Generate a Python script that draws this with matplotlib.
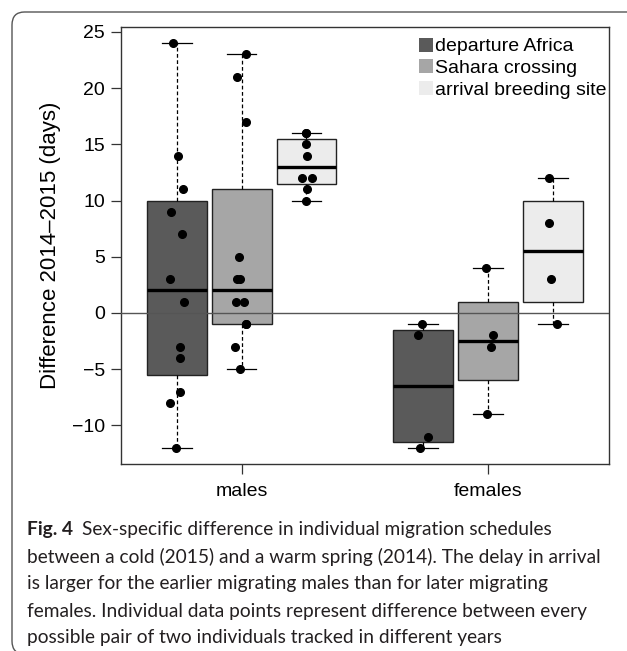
import math
import numpy as np
import matplotlib
matplotlib.use('Agg')
import matplotlib.pyplot as plt
from matplotlib.patches import Patch, FancyBboxPatch

# values (days, 2014 - 2015)
males_departure = [24, 14, 11, 9, 7, 3, 1, -3, -4, -7, -8, -12]
males_sahara = [23, 21, 17, 5, 3, 3, 1, 1, -1, -1, -3, -5]
males_arrival = [16, 16, 15, 14, 12, 12, 11, 10]
females_departure = [-1, -2, -11, -12]
females_sahara = [4, -2, -3, -9]
females_arrival = [12, 8, 3, -1]

groups = ['males', 'females']
stages = ['departure Africa', 'Sahara crossing', 'arrival breeding site']
stage_colors = ['#5a5a5a', '#a6a6a6', '#ececec']

# horizontal jitter of the points as seen in the figure
jit_m_dep = [-0.05, 0.015, 0.10, -0.087, 0.09, -0.11, 0.11, 0.056, 0.056, 0.056, -0.10, -0.01]
jit_m_sah = [0.07, -0.07, 0.067, -0.036, -0.07, -0.02, -0.087, 0.036, 0.067, 0.067, -0.10, -0.03]
jit_m_arr = [0.0, 0.0, -0.015, 0.01, -0.07, 0.087, 0.01, -0.015]
jit_f_dep = [-0.02, -0.077, 0.072, -0.056]
jit_f_sah = [-0.04, 0.077, 0.046, -0.015]
jit_f_arr = [-0.06, -0.06, -0.04, 0.056]

data = [males_departure, males_sahara, males_arrival,
        females_departure, females_sahara, females_arrival]
jitter = [jit_m_dep, jit_m_sah, jit_m_arr, jit_f_dep, jit_f_sah, jit_f_arr]
positions = [1, 2, 3, 4.8, 5.8, 6.8]
colors = stage_colors * 2


def fivenum(v):
    v = sorted(v)
    n = len(v)
    n4 = math.floor((n + 3) / 2) / 2
    idx = [1, n4, (n + 1) / 2, n + 1 - n4, n]
    return [0.5 * (v[math.floor(i) - 1] + v[math.ceil(i) - 1]) for i in idx]


def box_stats(v):
    lo, q1, med, q3, hi = fivenum(v)
    iqr = q3 - q1
    inside = [x for x in v if q1 - 1.5 * iqr <= x <= q3 + 1.5 * iqr]
    return dict(med=med, q1=q1, q3=q3, whislo=min(inside), whishi=max(inside), fliers=[])


plot_font = ['Liberation Sans', 'DejaVu Sans']
plt.rcParams['font.family'] = plot_font

fig = plt.figure(figsize=(6.27, 6.51), dpi=100)
ax = fig.add_axes([0.193, 0.2873, 0.778, 0.6712])

stats = [box_stats(v) for v in data]
bp = ax.bxp(stats, positions=positions, widths=0.923, capwidths=0.46,
            patch_artist=True, showfliers=False,
            boxprops=dict(edgecolor='#222222', linewidth=1.0),
            whiskerprops=dict(color='black', linestyle=(0, (3, 2)), linewidth=0.9),
            capprops=dict(color='black', linewidth=0.9),
            medianprops=dict(color='black', linewidth=2.4, solid_capstyle='butt'))
for patch, c in zip(bp['boxes'], colors):
    patch.set_facecolor(c)

ax.axhline(0, color='#555555', linewidth=1.0, zorder=3)

for pos, v, j in zip(positions, data, jitter):
    ax.plot(pos + np.array(j), v, 'o', color='black', markersize=5.5, zorder=4)

ax.set_xlim(0.143, 7.657)
ax.set_ylim(-13.44, 25.44)
ax.set_yticks([-10, -5, 0, 5, 10, 15, 20, 25])
ax.set_yticklabels(['\u221210', '\u22125', '0', '5', '10', '15', '20', '25'])
ax.set_xticks([2, 5.8])
ax.set_xticklabels(groups)
ax.tick_params(axis='both', direction='out', length=7, width=0.9, labelsize=14, color='#333333')
ax.tick_params(axis='x', pad=7)
ax.tick_params(axis='y', pad=4.5)
for s in ax.spines.values():
    s.set_color('#333333')
    s.set_linewidth(1.0)
ax.set_ylabel('Difference 2014\u20132015 (days)', fontsize=16, labelpad=8)

handles = [Patch(facecolor=c, edgecolor='none') for c in stage_colors]
ax.legend(handles, stages, loc='upper right', bbox_to_anchor=(1.018, 1.0), frameon=False,
          prop=dict(family=plot_font, size=14),
          handlelength=0.72, handleheight=0.72, handletextpad=0.12,
          labelspacing=0.2, borderaxespad=0.45, borderpad=0.1)

# outer frame of the figure panel (rounded left corners)
frame = FancyBboxPatch((12 / 627, -3 / 651), 1.2, 1 - 3 / 651 - 6 / 651,
                       boxstyle='round,pad=0,rounding_size=0.02',
                       transform=fig.transFigure, facecolor='none',
                       edgecolor='#555555', linewidth=1.0, clip_on=False)
fig.patches.append(frame)

# caption, sized so the second line spans the same width as in the figure
cap_font = ['Lato', 'DejaVu Sans']
cap_color = '#231f20'
lines = [
    'Sex-specific difference in individual migration schedules',
    'between a cold (2015) and a warm spring (2014). The delay in arrival',
    'is larger for the earlier migrating males than for later migrating',
    'females. Individual data points represent difference between every',
    'possible pair of two individuals tracked in different years',
]
renderer = fig.canvas.get_renderer()
probe = fig.text(0, 0, lines[1], family=cap_font, fontsize=10)
w = probe.get_window_extent(renderer=renderer).width
probe.remove()
cap_size = 10 * 575 / w

x0 = 27 / 627
y0 = 1 - 530 / 651
dy = 27 / 651
t = fig.text(x0, y0, 'Fig. 4', family=cap_font, fontsize=cap_size, fontweight='bold',
             color=cap_color, va='center')
bb = t.get_window_extent(renderer=renderer)
fig.text(bb.x1 / fig.bbox.width + 9 / 627, y0, lines[0], family=cap_font, fontsize=cap_size,
         color=cap_color, va='center')
for i, line in enumerate(lines[1:], start=1):
    fig.text(x0, y0 - i * dy, line, family=cap_font, fontsize=cap_size,
             color=cap_color, va='center')

fig.savefig('out.png', dpi=100)
